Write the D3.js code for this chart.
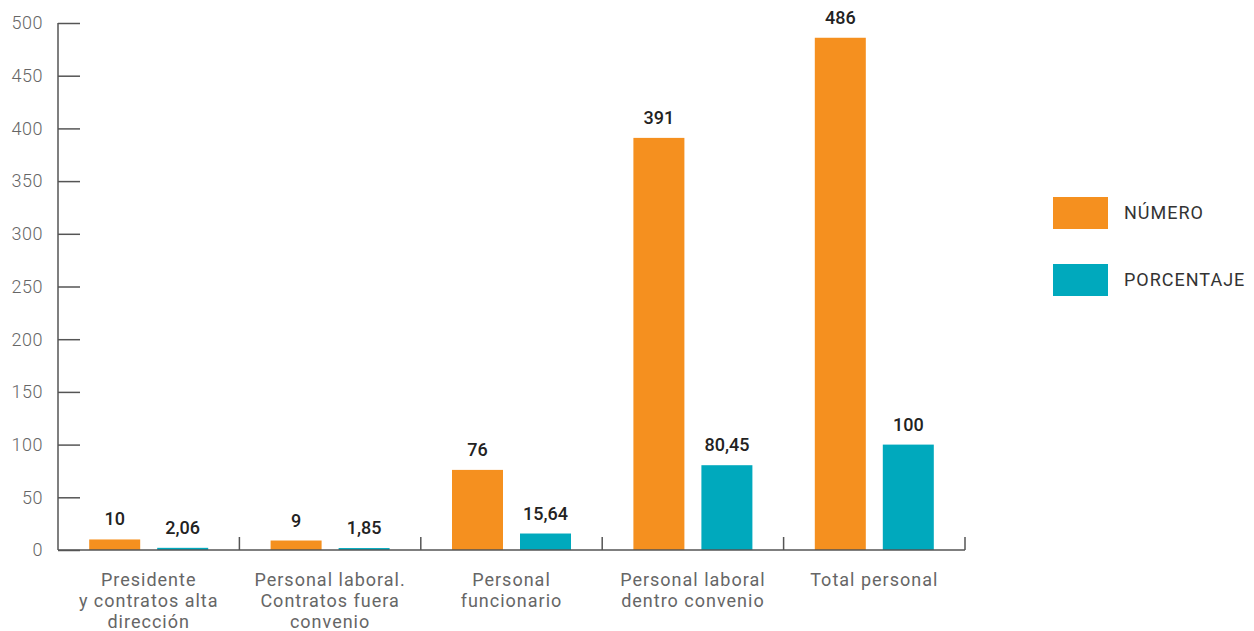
<!DOCTYPE html>
<html><head><meta charset="utf-8">
<script src="https://cdn.jsdelivr.net/npm/d3@7/dist/d3.min.js"></script>
<style>body{margin:0;background:#fff;}svg{display:block;font-family:Roboto,"Open Sans",sans-serif;}</style>
</head><body>
<svg id="c" width="1254" height="631"></svg>
<script>
const categories = [
  ["Presidente","y contratos alta","dirección"],
  ["Personal laboral.","Contratos fuera","convenio"],
  ["Personal","funcionario"],
  ["Personal laboral","dentro convenio"],
  ["Total personal"]
];
const numero = [10, 9, 76, 391, 486];
const porcentaje = [2.06, 1.85, 15.64, 80.45, 100];
const numeroLabels = ["10","9","76","391","486"];
const porcentajeLabels = ["2,06","1,85","15,64","80,45","100"];
const seriesNames = ["NÚMERO","PORCENTAJE"];
const colors = ["#F5901F","#00A9BD"];
const yTicks = [0,50,100,150,200,250,300,350,400,450,500];

const svg = d3.select("#c");
const x0 = 58, x1 = 965, yTop = 23, yBot = 550;
const x = d3.scaleBand().domain(d3.range(categories.length)).range([x0, x1]).paddingInner(0).paddingOuter(0);
const y = d3.scaleLinear().domain([0, 500]).range([yBot, yTop]);
const bw = 51, gap = 17;

// y axis
const yAxis = d3.axisRight(y).tickValues(yTicks).tickSize(22).tickFormat("");
const ga = svg.append("g").attr("transform", `translate(${x0},0)`).call(yAxis);
ga.select(".domain").remove();
ga.selectAll("line").attr("stroke", "#555").attr("stroke-width", 1.5);
svg.append("line").attr("x1", x0).attr("x2", x0).attr("y1", y(500)).attr("y2", yBot).attr("stroke", "#555").attr("stroke-width", 1.5);
svg.append("g").selectAll("text").data(yTicks).join("text")
  .attr("x", 43).attr("y", d => y(d)).attr("dy", "0.35em").attr("text-anchor", "end")
  .attr("font-size", 18).attr("font-weight", 300).attr("letter-spacing", 0.5).attr("fill", "#666").text(d => d);

// bars
const data = categories.map((c, i) => ({i, vals: [numero[i], porcentaje[i]], labs: [numeroLabels[i], porcentajeLabels[i]]}));
const g = svg.append("g");
data.forEach(d => {
  const cx = x(d.i) + x.bandwidth() / 2;
  [0, 1].forEach(s => {
    const bx = s === 0 ? cx - gap / 2 - bw : cx + gap / 2;
    g.append("rect").attr("x", bx).attr("y", y(d.vals[s])).attr("width", bw)
      .attr("height", yBot - y(d.vals[s])).attr("fill", colors[s]);
    g.append("text").attr("x", bx + bw / 2).attr("y", y(d.vals[s]) - 14)
      .attr("text-anchor", "middle").attr("font-size", 18).attr("font-weight", 500)
      .attr("fill", "#222").text(d.labs[s]);
  });
});

// x axis
svg.append("line").attr("x1", x0).attr("x2", x1).attr("y1", yBot).attr("y2", yBot).attr("stroke", "#555").attr("stroke-width", 1.5);
const bounds = d3.range(1, categories.length + 1).map(i => x0 + i * x.bandwidth());
svg.append("g").selectAll("line").data(bounds).join("line")
  .attr("x1", d => d).attr("x2", d => d).attr("y1", yBot - 13).attr("y2", yBot)
  .attr("stroke", "#555").attr("stroke-width", 1.5);
svg.append("g").selectAll("text").data(categories).join("text")
  .attr("x", (d, i) => x(i) + x.bandwidth() / 2).attr("y", 586)
  .attr("text-anchor", "middle").attr("font-size", 18).attr("letter-spacing", 1).attr("fill", "#666")
  .each(function(d) {
    d3.select(this).selectAll("tspan").data(d).join("tspan")
      .attr("x", d3.select(this).attr("x")).attr("dy", (t, j) => j === 0 ? 0 : 21).text(t => t);
  });

// legend
const lg = svg.append("g");
seriesNames.forEach((n, i) => {
  lg.append("rect").attr("x", 1053).attr("y", 197 + i * 67).attr("width", 55).attr("height", 32).attr("fill", colors[i]);
  lg.append("text").attr("x", 1124).attr("y", 213 + i * 67).attr("dy", "0.35em")
    .attr("font-size", 18).attr("letter-spacing", 1).attr("fill", "#333").text(n);
});
</script>
</body></html>
